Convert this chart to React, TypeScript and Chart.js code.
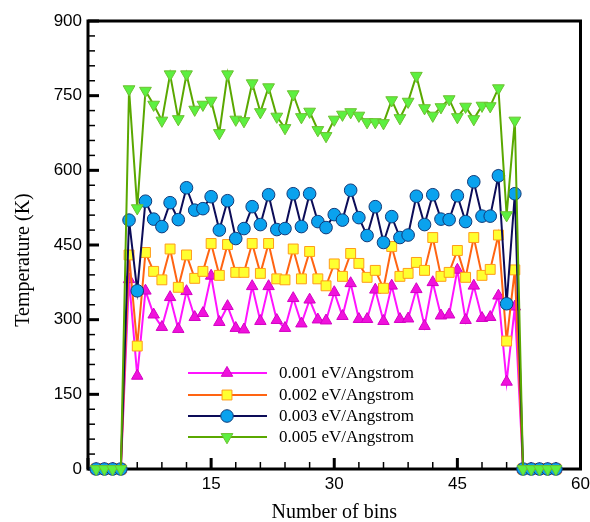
import React, { useEffect, useRef } from 'react';
import { Chart, registerables } from 'chart.js';

Chart.register(...registerables);

// Bin index along the sample
const BINS = [
  1, 2, 3, 4, 5, 6, 7, 8, 9, 10, 11, 12, 13, 14, 15, 16, 17, 18, 19, 20,
  21, 22, 23, 24, 25, 26, 27, 28, 29, 30, 31, 32, 33, 34, 35, 36, 37, 38, 39, 40,
  41, 42, 43, 44, 45, 46, 47, 48, 49, 50, 51, 52, 53, 54, 55, 56, 57,
];

const SERIES_LABELS = [
  '0.001 eV/Angstrom',
  '0.002 eV/Angstrom',
  '0.003 eV/Angstrom',
  '0.005 eV/Angstrom',
];

// Temperature per bin (K)
const T_0001 = [
  0, 0, 0, 0, 381, 187, 358, 310, 285, 345, 281, 357, 305, 313, 388, 295, 327, 283, 280, 367,
  297, 367, 299, 283, 343, 292, 340, 300, 298, 355, 307, 373, 301, 301, 360, 297, 368, 301, 302, 361,
  287, 375, 308, 310, 400, 299, 368, 303, 305, 348, 175, 326, 0, 0, 0, 0, 0,
];
const T_0002 = [
  0, 0, 0, 0, 430, 247, 435, 397, 380, 442, 365, 430, 383, 397, 453, 389, 451, 395, 395, 453,
  393, 453, 382, 380, 442, 382, 437, 382, 368, 412, 387, 433, 413, 385, 399, 363, 447, 387, 393, 415,
  399, 465, 387, 395, 439, 385, 465, 389, 401, 470, 257, 400, 0, 0, 0, 0, 0,
];
const T_0003 = [
  0, 0, 0, 0, 500, 358, 538, 502, 487, 535, 501, 565, 520, 523, 547, 480, 539, 463, 483, 527,
  491, 551, 481, 483, 553, 487, 553, 497, 485, 511, 500, 560, 505, 469, 527, 455, 507, 465, 470, 548,
  491, 551, 502, 501, 549, 497, 577, 508, 508, 589, 332, 553, 0, 0, 0, 0, 0,
];
const T_0005 = [
  0, 0, 0, 0, 763, 524, 760, 732, 700, 793, 703, 793, 722, 732, 740, 675, 793, 702, 699, 775,
  717, 767, 708, 685, 753, 707, 718, 681, 669, 702, 712, 717, 710, 697, 697, 695, 741, 705, 738, 790,
  725, 710, 727, 743, 707, 728, 703, 730, 729, 765, 510, 700, 0, 0, 0, 0, 0,
];

const X_TICKS = [0, 15, 30, 45, 60];
const Y_TICKS = [0, 150, 300, 450, 600, 750, 900];
const X_TITLE = 'Number of bins';
const Y_TITLE = 'Temperature (K)';

type Style = {
  line: string;
  fill: string;
  edge: string;
  shape: 'triangle' | 'rect' | 'circle';
  radius: number;
  rotation: number;
};

const STYLES: Style[] = [
  { line: '#ff14ff', fill: '#f012dc', edge: '#d400c4', shape: 'triangle', radius: 6.6, rotation: 0 },
  { line: '#ff6412', fill: '#ffff30', edge: '#ff9c18', shape: 'rect', radius: 7, rotation: 0 },
  { line: '#0c0c58', fill: '#0aa2ee', edge: '#123a78', shape: 'circle', radius: 6.3, rotation: 0 },
  { line: '#5aa800', fill: '#5cf040', edge: '#6cc030', shape: 'triangle', radius: 6.8, rotation: 180 },
];

const SERIES = [T_0001, T_0002, T_0003, T_0005];

const SANS = '"Liberation Sans", Arial, sans-serif';
const SERIF = '"Liberation Serif", "Times New Roman", serif';

function drawMarker(ctx: CanvasRenderingContext2D, s: Style, x: number, y: number) {
  const r = s.radius;
  ctx.beginPath();
  if (s.shape === 'circle') {
    ctx.arc(x, y, r, 0, Math.PI * 2);
  } else if (s.shape === 'rect') {
    const h = r * Math.SQRT1_2;
    ctx.rect(x - h, y - h, 2 * h, 2 * h);
  } else {
    let a = (s.rotation * Math.PI) / 180;
    ctx.moveTo(x + Math.sin(a) * r, y - Math.cos(a) * r);
    a += (2 * Math.PI) / 3;
    ctx.lineTo(x + Math.sin(a) * r, y - Math.cos(a) * r);
    a += (2 * Math.PI) / 3;
    ctx.lineTo(x + Math.sin(a) * r, y - Math.cos(a) * r);
    ctx.closePath();
  }
  ctx.fillStyle = s.fill;
  ctx.fill();
  ctx.lineWidth = 1;
  ctx.strokeStyle = s.edge;
  ctx.stroke();
}

// Box frame with inward ticks, drawn beneath the data
const framePlugin = {
  id: 'frame',
  beforeDatasetsDraw(chart: any) {
    const { ctx, chartArea } = chart;
    const { left, right, top, bottom } = chartArea;
    const xs = chart.scales.x;
    const ys = chart.scales.y;
    ctx.save();
    ctx.strokeStyle = '#000';
    ctx.lineCap = 'butt';
    for (let v = 0; v <= 900; v += 30) {
      const major = v % 150 === 0;
      const py = ys.getPixelForValue(v);
      ctx.lineWidth = major ? 3 : 1.5;
      ctx.beginPath();
      ctx.moveTo(left, py);
      ctx.lineTo(left + (major ? 11 : 7), py);
      ctx.stroke();
    }
    for (let v = 0; v <= 60; v += 3) {
      const major = v % 15 === 0;
      const px = xs.getPixelForValue(v);
      ctx.lineWidth = major ? 3 : 1.5;
      ctx.beginPath();
      ctx.moveTo(px, bottom);
      ctx.lineTo(px, bottom - (major ? 11 : 7));
      ctx.stroke();
    }
    ctx.lineWidth = 3;
    ctx.strokeRect(left, top, right - left, bottom - top);
    ctx.restore();
  },
  afterDraw(chart: any) {
    const { ctx, chartArea } = chart;
    const { left, right } = chartArea;
    ctx.save();
    ctx.fillStyle = '#000';
    ctx.font = `20px ${SERIF}`;
    ctx.textAlign = 'center';
    ctx.textBaseline = 'middle';
    ctx.fillText(X_TITLE, (left + right) / 2, 513);
    ctx.translate(24, 260);
    ctx.rotate(-Math.PI / 2);
    ctx.fillText(Y_TITLE, 0, 0);
    ctx.restore();

    // legend
    const rows = [373, 395, 416, 437];
    ctx.save();
    ctx.font = `17px ${SERIF}`;
    ctx.textAlign = 'left';
    ctx.textBaseline = 'middle';
    SERIES_LABELS.forEach((label, i) => {
      const s = STYLES[i];
      const y = rows[i];
      ctx.strokeStyle = s.line;
      ctx.lineWidth = 2;
      ctx.beginPath();
      ctx.moveTo(188, y);
      ctx.lineTo(267, y);
      ctx.stroke();
      drawMarker(ctx, s, 227, y);
      ctx.fillStyle = '#000';
      ctx.fillText(label, 279, y + 1);
    });
    ctx.restore();
  },
};

export default function App() {
  const ref = useRef<HTMLCanvasElement | null>(null);

  useEffect(() => {
    const canvas = ref.current;
    if (!canvas) return;
    const datasets = SERIES.map((vals, i) => {
      const s = STYLES[i];
      return {
        label: SERIES_LABELS[i],
        data: BINS.map((b, k) => ({ x: b, y: vals[k] })),
        borderColor: s.line,
        borderWidth: 2,
        backgroundColor: s.fill,
        pointBackgroundColor: s.fill,
        pointBorderColor: s.edge,
        pointBorderWidth: 1,
        pointStyle: s.shape,
        pointRadius: s.radius,
        pointRotation: s.rotation,
        tension: 0,
        fill: false,
        clip: false as any,
        order: SERIES.length - i,
      };
    });

    const chart = new Chart(canvas, {
      type: 'line',
      data: { datasets },
      plugins: [framePlugin],
      options: {
        animation: false,
        responsive: false,
        maintainAspectRatio: false,
        devicePixelRatio: 1,
        events: [],
        layout: { padding: { left: 0, right: 9.5, top: 21, bottom: 0 } },
        plugins: { legend: { display: false }, tooltip: { enabled: false } },
        scales: {
          x: {
            type: 'linear',
            min: 0,
            max: 60,
            afterBuildTicks: (s: any) => {
              s.ticks = X_TICKS.map((v) => ({ value: v }));
            },
            afterFit: (s: any) => {
              s.height = 53;
              s.paddingLeft = 0;
              s.paddingRight = 0;
            },
            grid: { display: false, drawTicks: false },
            border: { display: false },
            ticks: {
              padding: 5,
              color: '#000',
              font: { family: SANS, size: 17 },
              maxRotation: 0,
              autoSkip: false,
              callback: (v: any) => (v === 0 ? '' : String(v)),
            },
          },
          y: {
            type: 'linear',
            min: 0,
            max: 900,
            afterBuildTicks: (s: any) => {
              s.ticks = Y_TICKS.map((v) => ({ value: v }));
            },
            afterFit: (s: any) => {
              s.width = 88;
              s.paddingTop = 0;
              s.paddingBottom = 0;
            },
            grid: { display: false, drawTicks: false },
            border: { display: false },
            ticks: {
              padding: 6,
              color: '#000',
              font: { family: SANS, size: 17 },
              autoSkip: false,
              callback: (v: any) => String(v),
            },
          },
        },
      },
    } as any);

    return () => chart.destroy();
  }, []);

  return (
    <div style={{ position: 'fixed', left: 0, top: 0, width: 590, height: 522, background: '#fff' }}>
      <canvas ref={ref} width={590} height={522} style={{ display: 'block', width: 590, height: 522 }} />
    </div>
  );
}
